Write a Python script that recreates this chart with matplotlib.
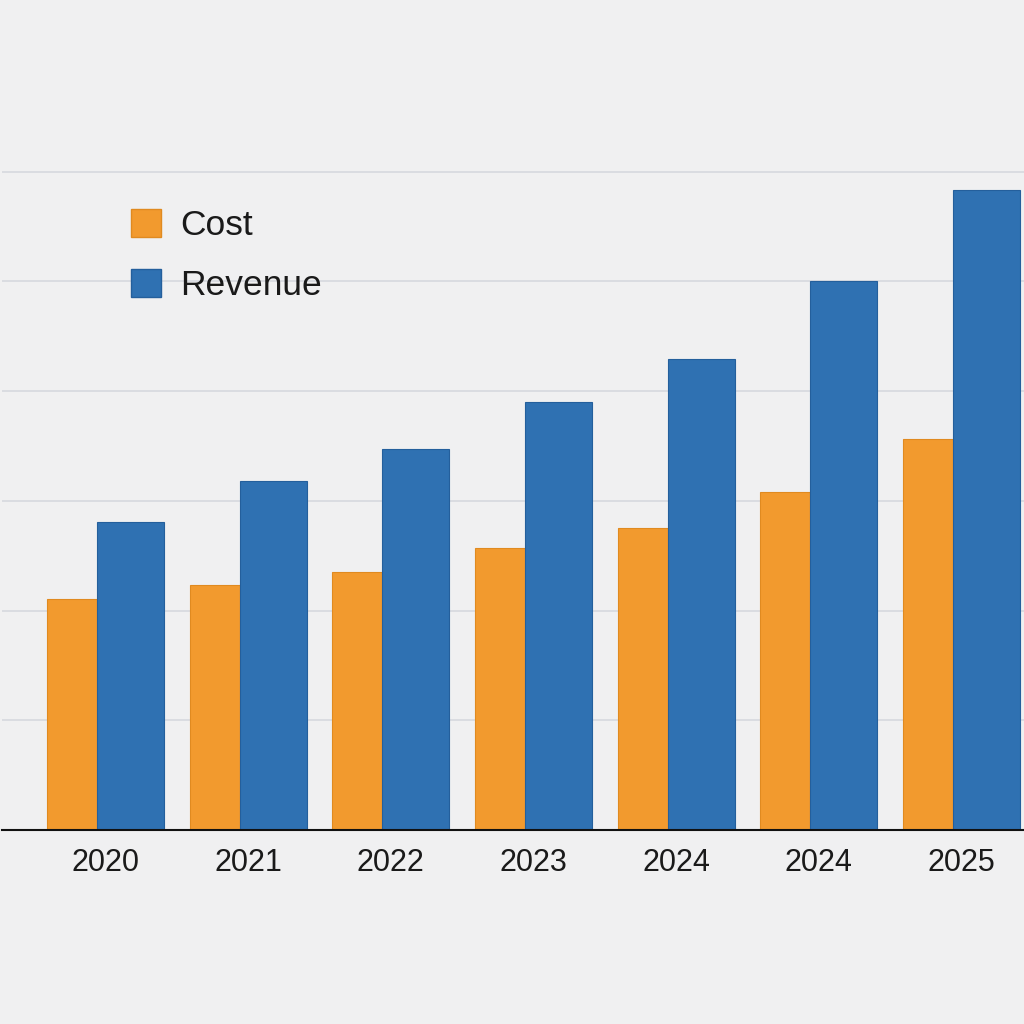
import matplotlib.pyplot as plt
from matplotlib.patches import Patch

# Dados (unidades: 1 linha de grade = 10)
years = ["2020", "2021", "2022", "2023", "2024", "2024", "2025"]
cost = [21.1, 22.3, 23.5, 25.7, 27.5, 30.8, 35.6]
revenue = [28.1, 31.8, 34.7, 39.0, 42.9, 50.0, 58.3]

orange = "#f29a2e"
blue = "#2f71b2"
bg = "#f0f0f1"

plt.rcParams["font.family"] = ["Liberation Sans", "DejaVu Sans"]

fig = plt.figure(figsize=(10.24, 10.24), dpi=100, facecolor=bg)
ax = fig.add_axes([2 / 1024, 1 - 830 / 1024, 1022 / 1024, 768 / 1024])
ax.set_facecolor(bg)

x = list(range(len(years)))
ax.bar([i - 0.41 for i in x], cost, width=0.35, align="edge", color=orange,
       edgecolor="#e08a20", linewidth=0.8, zorder=3)
ax.bar([i - 0.06 for i in x], revenue, width=0.47, align="edge", color=blue,
       edgecolor="#245f9c", linewidth=0.8, zorder=3)

ax.set_xlim(-0.725, 6.438)
ax.set_ylim(0, 70)
ax.set_yticks([10, 20, 30, 40, 50, 60])
ax.yaxis.grid(True, color="#d6d9de", linewidth=1.2, zorder=0)
ax.tick_params(axis="y", left=False, labelleft=False)

ax.set_xticks(x)
ax.set_xticklabels(years, fontsize=22, color="#1a1a1a")
ax.tick_params(axis="x", length=0, pad=13)

for s in ["top", "right", "left"]:
    ax.spines[s].set_visible(False)
ax.spines["bottom"].set_color("#111111")
ax.spines["bottom"].set_linewidth(1.5)
ax.spines["bottom"].set_zorder(4)

handles = [Patch(facecolor=orange, edgecolor="#e08a20", label="Cost"),
           Patch(facecolor=blue, edgecolor="#245f9c", label="Revenue")]
fig.legend(handles=handles, loc="upper left", bbox_to_anchor=(131 / 1024, 1 - 209 / 1024),
           frameon=False, fontsize=25.5, handlelength=0.85, handleheight=0.85,
           handletextpad=0.55, labelspacing=0.75, borderpad=0, borderaxespad=0,
           labelcolor="#1a1a1a")

fig.savefig("out.png", dpi=100, facecolor=bg)
